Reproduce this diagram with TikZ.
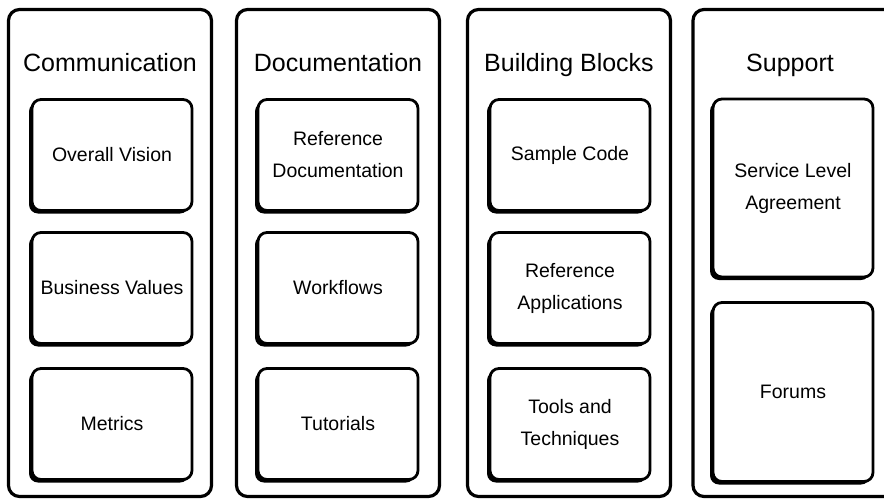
\documentclass[tikz,border=0pt]{standalone}
\usepackage{fontspec}
\setmainfont{Liberation Sans}
\usetikzlibrary{shadows}

\begin{document}
\begin{tikzpicture}[x=1pt,y=-1pt,
  column/.style={draw,line width=3.2pt,rounded corners=11pt,minimum width=203pt,minimum height=487pt,inner sep=0pt},
  title/.style={anchor=base,font=\fontsize{25}{29}\selectfont},
  card/.style={draw,fill=white,line width=2.8pt,rounded corners=9pt,minimum width=160pt,minimum height=111pt,
    align=center,font=\fontsize{19.5}{32}\selectfont,
    drop shadow={shadow xshift=-3pt,shadow yshift=-3pt,fill=black,opacity=1}},
  tall/.style={card,minimum height=178pt}]
  \useasboundingbox (0,0) rectangle (884,501);
  \clip (0,0) rectangle (884,501);
  % columns
  \node[column] (comm) at (110,253) {};
  \node[column] (docs) at (338,253) {};
  \node[column] (blocks) at (569,253) {};
  \node[column,minimum width=210pt] (support) at (798,253) {};
  \node[title] (commtitle) at (110,71) {Communication};
  \node[title] (docstitle) at (338,71) {Documentation};
  \node[title] (blockstitle) at (569,71) {Building Blocks};
  \node[title] (supporttitle) at (790,71) {Support};
  % cards
  \node[card] (vision) at (112,155) {Overall Vision};
  \node[card] (values) at (112,288) {Business Values};
  \node[card] (metrics) at (112,424) {Metrics};
  \node[card] (refdocs) at (338,155) {Reference\\Documentation};
  \node[card] (workflows) at (338,288) {Workflows};
  \node[card] (tutorials) at (338,424) {Tutorials};
  \node[card] (samples) at (570,155) {Sample Code};
  \node[card] (refapps) at (570,288) {Reference\\Applications};
  \node[card] (tools) at (570,424) {Tools and\\Techniques};
  \node[tall] (sla) at (793,188) {Service Level\\Agreement};
  \node[tall,minimum height=179pt] (forums) at (793,392) {Forums};
\end{tikzpicture}
\end{document}
